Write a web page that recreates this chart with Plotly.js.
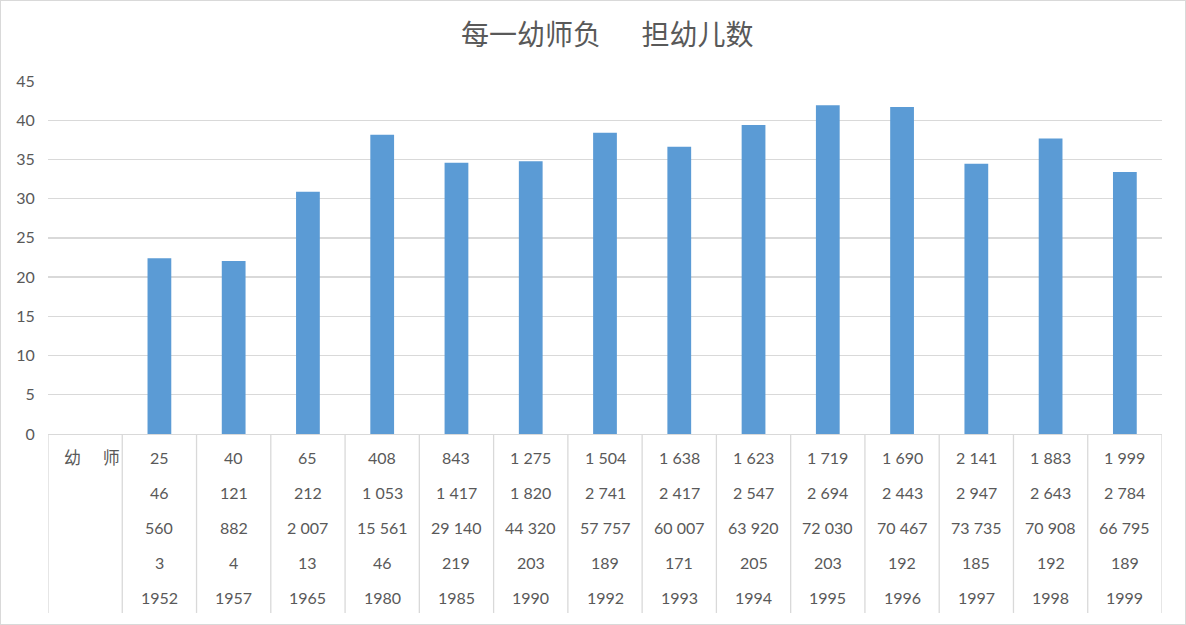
<!DOCTYPE html>
<html>
<head>
<meta charset="utf-8">
<script src="https://cdn.plot.ly/plotly-3.0.1.min.js"></script>
<style>
  html, body { margin: 0; padding: 0; background: #fff; }
  #chart { width: 1184px; height: 623px; border: 1px solid #d9d9d9; }
</style>
</head>
<body>
<div id="chart"></div>
<script>
// Categories (first column holds only the row header "幼 师")
const categories = ['幼 师', '1952', '1957', '1965', '1980', '1985', '1990', '1992', '1993', '1994', '1995', '1996', '1997', '1998', '1999'];
// Bar values: children per kindergarten teacher
const ratio = [null, 22.4, 22.05, 30.88, 38.14, 34.57, 34.76, 38.40, 36.63, 39.38, 41.90, 41.70, 34.44, 37.66, 33.41];
// Multi-level category labels, top row to bottom row
const row1 = ['幼\u00a0\u00a0\u00a0\u00a0\u00a0师', '25', '40', '65', '408', '843', '1 275', '1 504', '1 638', '1 623', '1 719', '1 690', '2 141', '1 883', '1 999'];
const row2 = ['', '46', '121', '212', '1 053', '1 417', '1 820', '2 741', '2 417', '2 547', '2 694', '2 443', '2 947', '2 643', '2 784'];
const row3 = ['', '560', '882', '2 007', '15 561', '29 140', '44 320', '57 757', '60 007', '63 920', '72 030', '70 467', '73 735', '70 908', '66 795'];
const row4 = ['', '3', '4', '13', '46', '219', '203', '189', '171', '205', '203', '192', '185', '192', '189'];
const row5 = ['', '1952', '1957', '1965', '1980', '1985', '1990', '1992', '1993', '1994', '1995', '1996', '1997', '1998', '1999'];
const titleText = '每一幼师负\u3000\u00a0\u00a0担幼儿数';
const yTicks = [0, 5, 10, 15, 20, 25, 30, 35, 40, 45];

const textColor = '#595959';
const fontFam = "Lato, 'Noto Sans CJK SC', sans-serif";
const rows = [row1, row2, row3, row4, row5];

const annotations = [];
rows.forEach((row, r) => {
  row.forEach((t, i) => {
    if (!t) return;
    const first = (i === 0);
    annotations.push({
      x: first ? i + 0.49 : i,
      xref: 'x', y: 0, yref: 'paper',
      xanchor: first ? 'right' : 'center',
      yanchor: 'middle',
      yshift: -(23 + 35 * r),
      text: t, showarrow: false,
      font: { family: fontFam, size: first ? 17 : 16, color: textColor }
    });
  });
});

const shapes = [];
for (let i = 0; i <= categories.length; i++) {
  shapes.push({
    type: 'line', xref: 'x', yref: 'paper',
    x0: i - 0.5, x1: i - 0.5, y0: 0, y1: -0.507,
    line: { color: '#d9d9d9', width: 1.3 }
  });
}

const trace = {
  type: 'bar',
  x: categories,
  y: ratio,
  marker: { color: '#5b9bd5' },
  hoverinfo: 'skip'
};

const layout = {
  width: 1184, height: 623,
  margin: { l: 47, r: 23, t: 80, b: 190 },
  paper_bgcolor: '#ffffff', plot_bgcolor: '#ffffff',
  font: { family: fontFam, color: textColor, size: 16 },
  title: {
    text: titleText,
    x: 0.512, xanchor: 'center', y: 0.945, yanchor: 'middle',
    font: { family: "'Noto Sans CJK SC', sans-serif", size: 28, color: textColor }
  },
  bargap: 0.68,
  showlegend: false,
  xaxis: {
    type: 'category',
    range: [-0.5, categories.length - 0.5],
    showticklabels: false, ticks: '',
    showgrid: false, zeroline: false,
    showline: true, linecolor: '#d9d9d9', linewidth: 1.3,
    fixedrange: true
  },
  yaxis: {
    range: [0, 45],
    tickvals: yTicks,
    ticks: 'outside', ticklen: 9, tickcolor: 'rgba(0,0,0,0)',
    showgrid: true, gridcolor: '#d9d9d9', gridwidth: 1.3,
    zeroline: false, showline: false,
    tickfont: { family: fontFam, size: 16, color: textColor },
    fixedrange: true
  },
  annotations: annotations,
  shapes: shapes
};

Plotly.newPlot('chart', [trace], layout, { displayModeBar: false, staticPlot: true });
</script>
</body>
</html>
